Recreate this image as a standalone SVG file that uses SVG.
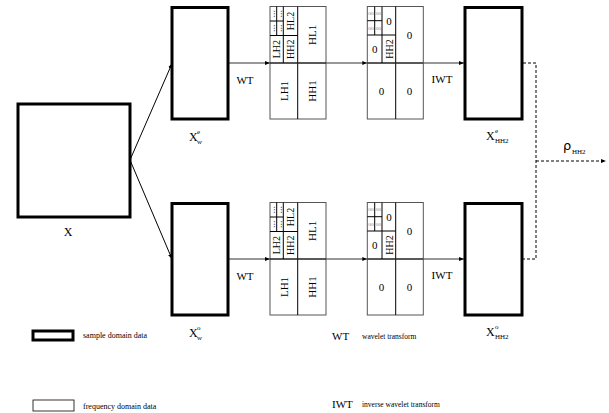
<svg xmlns="http://www.w3.org/2000/svg" xmlns:xlink="http://www.w3.org/1999/xlink" width="609" height="413" viewBox="0 0 609 413">
<style>
text{font-family:"Liberation Serif","Times New Roman",serif;fill:#000}
.thick{fill:#fff;stroke:#000;stroke-width:3}
.thin{fill:#fff;stroke:#000;stroke-width:0.8}
.gout{fill:#fff;stroke:#555;stroke-width:1}
.gl{stroke:#000;stroke-width:1;fill:none}
.mid{stroke:#222;stroke-width:1.3;fill:none}
.lab{font-size:11px;text-anchor:middle}
.sm{font-size:10px;text-anchor:middle}
.dots{font-size:10px;text-anchor:middle;fill:#444}
.oo{font-size:5.5px;text-anchor:middle;fill:#888}
.con{stroke:#000;stroke-width:1;fill:none}
.hl{stroke:#333;stroke-width:1.2;fill:none}
.dash{stroke:#000;stroke-width:1;fill:none;stroke-dasharray:3,2}
.leg{font-size:8px}
.big{font-size:12px}
.sub{font-size:7px}
</style>
<defs>
<marker id="ah" viewBox="0 0 10 10" refX="10" refY="5" markerWidth="5" markerHeight="5" orient="auto" markerUnits="userSpaceOnUse">
<path d="M0,1 L10,5 L0,9 z" fill="#000"/>
</marker>
<g id="wtgrid">
<rect class="gout" x="270" y="6.5" width="56" height="112.5"/>
<line class="gl" x1="297.7" y1="6.5" x2="297.7" y2="119"/>
<line class="mid" x1="270" y1="63" x2="326" y2="63"/>
<line class="gl" x1="283.3" y1="6.5" x2="283.3" y2="63"/>
<line class="gl" x1="270" y1="35.5" x2="297.7" y2="35.5"/>
<line class="gl" x1="276.7" y1="6.5" x2="276.7" y2="35.5"/>
<line class="gl" x1="270" y1="21" x2="283.3" y2="21"/>
<text class="dots" transform="translate(275.3,13.8) rotate(-90)">...</text>
<text class="dots" transform="translate(282,13.8) rotate(-90)">...</text>
<text class="dots" transform="translate(275.3,28.2) rotate(-90)">...</text>
<text class="dots" transform="translate(282,28.2) rotate(-90)">...</text>
<text class="sm" transform="translate(294,21) rotate(-90)">HL2</text>
<text class="sm" transform="translate(280.3,49.2) rotate(-90)">LH2</text>
<text class="sm" transform="translate(294,49.2) rotate(-90)">HH2</text>
<text class="lab" transform="translate(315.7,34.8) rotate(-90)">HL1</text>
<text class="lab" transform="translate(287.7,91) rotate(-90)">LH1</text>
<text class="lab" transform="translate(315.7,91) rotate(-90)">HH1</text>
</g>
<g id="maskgrid">
<rect class="gout" x="367.3" y="6.5" width="56" height="112.5"/>
<line class="gl" x1="395.7" y1="6.5" x2="395.7" y2="119"/>
<line class="mid" x1="367.3" y1="63" x2="423.3" y2="63"/>
<line class="gl" x1="382" y1="6.5" x2="382" y2="63"/>
<line class="gl" x1="367.3" y1="35" x2="395.7" y2="35"/>
<line class="gl" x1="374.7" y1="6.5" x2="374.7" y2="35"/>
<line class="gl" x1="367.3" y1="20.7" x2="382" y2="20.7"/>
<text class="oo" x="371" y="15">oo</text>
<text class="oo" x="378.4" y="15">oo</text>
<text class="oo" x="371" y="29.5">oo</text>
<text class="oo" x="378.4" y="29.5">oo</text>
<text class="lab" x="388.9" y="24.5">0</text>
<text class="lab" x="374.7" y="52.7">0</text>
<text class="sm" transform="translate(392.5,49) rotate(-90)">HH2</text>
<text class="lab" x="409.5" y="38.5">0</text>
<text class="lab" x="381.5" y="95">0</text>
<text class="lab" x="409.5" y="95">0</text>
</g>
</defs>

<g id="connectors">
<line class="con" x1="130" y1="160" x2="172" y2="63.5" marker-end="url(#ah)"/>
<line class="con" x1="130" y1="160" x2="172" y2="259" marker-end="url(#ah)"/>
<line class="hl" x1="228" y1="63" x2="270" y2="63" marker-end="url(#ah)"/>
<line class="hl" x1="326" y1="63" x2="367.3" y2="63" marker-end="url(#ah)"/>
<line class="hl" x1="423.3" y1="63" x2="464" y2="63" marker-end="url(#ah)"/>
<line class="hl" x1="228" y1="259" x2="270" y2="259" marker-end="url(#ah)"/>
<line class="hl" x1="326" y1="259" x2="367.3" y2="259" marker-end="url(#ah)"/>
<line class="hl" x1="423.3" y1="259" x2="464" y2="259" marker-end="url(#ah)"/>
<path class="dash" d="M523,63 H536 V259 H523"/>
<line class="dash" x1="536" y1="161" x2="606" y2="161" marker-end="url(#ah)"/>
<text x="245" y="84" class="lab">WT</text>
<text x="245" y="280" class="lab">WT</text>
<text x="442" y="83" class="lab">IWT</text>
<text x="442" y="279" class="lab">IWT</text>
<text x="563" y="150" style="font-family:'DejaVu Sans',sans-serif;font-size:13px">ρ</text>
<text x="572" y="154" class="sub">HH2</text>
</g>

<g id="X">
<rect class="thick" x="18" y="104" width="112" height="113"/>
<text class="big" x="68" y="236" text-anchor="middle">X</text>
</g>
<g id="Xw_e">
<rect class="thick" x="172" y="7.5" width="56" height="111.5"/>
<text class="big" x="189" y="141">X</text>
<text class="sub" x="197" y="134">e</text>
<text class="sub" x="197" y="144">w</text>
</g>
<g id="Xw_o">
<rect class="thick" x="172" y="203.5" width="56" height="111.5"/>
<text class="big" x="189" y="337">X</text>
<text class="sub" x="197" y="330">o</text>
<text class="sub" x="197" y="340">w</text>
</g>
<g id="WT_e"><use xlink:href="#wtgrid" href="#wtgrid"/></g>
<g id="WT_o"><use xlink:href="#wtgrid" href="#wtgrid" transform="translate(0,196)"/></g>
<g id="mask_e"><use xlink:href="#maskgrid" href="#maskgrid"/></g>
<g id="mask_o"><use xlink:href="#maskgrid" href="#maskgrid" transform="translate(0,196)"/></g>
<g id="XHH2_e">
<rect class="thick" x="465" y="7.5" width="57" height="111.5"/>
<text class="big" x="486" y="140">X</text>
<text class="sub" x="495" y="133">e</text>
<text class="sub" x="495" y="143">HH2</text>
</g>
<g id="XHH2_o">
<rect class="thick" x="465" y="203.5" width="57" height="111.5"/>
<text class="big" x="486" y="336">X</text>
<text class="sub" x="495" y="329">o</text>
<text class="sub" x="495" y="339">HH2</text>
</g>
<g id="legend">
<rect class="thick" x="33" y="331" width="40" height="9"/>
<text class="leg" x="83" y="338">sample domain data</text>
<rect class="thin" x="33" y="400" width="41" height="11"/>
<text class="leg" x="83" y="409">frequency domain data</text>
<text x="332" y="340" style="font-size:11px">WT</text>
<text x="362" y="339" style="font-size:7.5px">wavelet transform</text>
<text x="332" y="408" style="font-size:11px">IWT</text>
<text x="362" y="407" style="font-size:7.5px">inverse wavelet transform</text>
</g>
</svg>
